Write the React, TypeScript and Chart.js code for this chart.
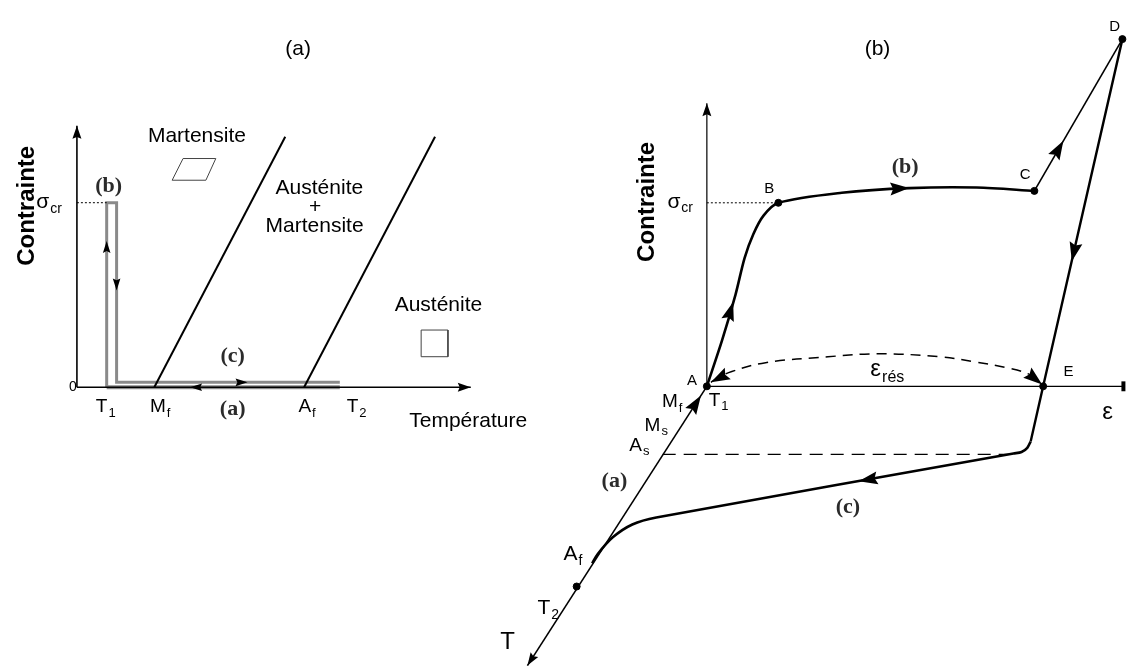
import React, { useEffect, useRef } from "react";
import { Chart, registerables } from "chart.js";

Chart.register(...registerables);

type Pt = { x: number; y: number };

// ================= Panel (a): stress vs temperature (x = temperature units, y = stress units) =================
const tempAxisA: Pt[] = [{ x: 0, y: 0 }, { x: 99.25, y: 0 }];
const stressAxisA: Pt[] = [{ x: 0, y: 0 }, { x: 0, y: 100 }];
const sigmaCrA = 70.6;
const sigmaCrDottedA: Pt[] = [{ x: 0, y: sigmaCrA }, { x: 7.5, y: sigmaCrA }];
const loadPathA: Pt[] = [
  { x: 7.5, y: 0 }, { x: 7.5, y: sigmaCrA }, { x: 10, y: sigmaCrA }, { x: 10, y: 1.9 }, { x: 66.25, y: 1.9 },
];
const coolPathA: Pt[] = [{ x: 7.5, y: 0 }, { x: 66.25, y: 0 }];
const mfBoundaryA: Pt[] = [{ x: 19.5, y: 0 }, { x: 52.5, y: 95.8 }];
const afBoundaryA: Pt[] = [{ x: 57.25, y: 0 }, { x: 90.25, y: 95.8 }];
const martensiteIconA: Pt[] = [
  { x: 26.75, y: 87.5 }, { x: 35, y: 87.5 }, { x: 32.5, y: 79.2 }, { x: 24, y: 79.2 }, { x: 26.75, y: 87.5 },
];
const austeniteIconA: Pt[] = [
  { x: 86.75, y: 21.9 }, { x: 93.5, y: 21.9 }, { x: 93.5, y: 11.7 }, { x: 86.75, y: 11.7 }, { x: 86.75, y: 21.9 },
];
const arrowsA = [
  { tail: { x: 0, y: 94 }, tip: { x: 0, y: 100 }, kind: "axis" },
  { tail: { x: 95, y: 0 }, tip: { x: 99.25, y: 0 }, kind: "axis" },
  { tail: { x: 7.5, y: 50 }, tip: { x: 7.5, y: 56 }, kind: "small" },
  { tail: { x: 10, y: 43 }, tip: { x: 10, y: 37 }, kind: "small" },
  { tail: { x: 39, y: 1.9 }, tip: { x: 43, y: 1.9 }, kind: "small" },
  { tail: { x: 32.5, y: 0 }, tip: { x: 28.5, y: 0 }, kind: "small" },
];
const textsA = [
  { t: "(a)", x: 55.75, y: 129.4, s: "title" },
  { t: "Martensite", x: 30.25, y: 96.2, s: "label" },
  { t: "Austénite", x: 61.1, y: 76.2, s: "label" },
  { t: "+", x: 60, y: 68.7, s: "label" },
  { t: "Martensite", x: 59.9, y: 61.5, s: "label" },
  { t: "Austénite", x: 91.1, y: 31.3, s: "label" },
  { t: "Température", x: 83.75, y: -12.8, s: "label", align: "left" },
  { t: "0", x: -1, y: 0, s: "small" },
  { t: "σ", sub: "cr", x: -7, y: 70.9, s: "sym" },
  { t: "(b)", x: 8, y: 77, s: "serif" },
  { t: "(c)", x: 39.25, y: 11.7, s: "serif" },
  { t: "(a)", x: 39.25, y: -8.3, s: "serif" },
  { t: "T", sub: "1", x: 7.25, y: -7.5, s: "tick" },
  { t: "M", sub: "f", x: 21, y: -7.5, s: "tick" },
  { t: "A", sub: "f", x: 58, y: -7.5, s: "tick" },
  { t: "T", sub: "2", x: 70.5, y: -7.5, s: "tick" },
  { t: "Contrainte", x: -12.5, y: 69.4, s: "axisTitle", rotate: true },
];

// ================= Panel (b): stress / strain / temperature (projected units) =================
const strainAxisB: Pt[] = [{ x: 0, y: 0 }, { x: 123.5, y: 0 }];
const strainEndTickB: Pt[] = [{ x: 123.5, y: -2.7 }, { x: 123.5, y: 2.7 }];
const stressAxisB: Pt[] = [{ x: 0, y: 0 }, { x: 0, y: 154.3 }];
const tempAxisB: Pt[] = [{ x: 0, y: 0 }, { x: -53.2, y: -152.2 }];
const sigmaCrDottedB: Pt[] = [{ x: 0, y: 100 }, { x: 21.2, y: 100 }];
const loadingABC: Pt[] = [
  { x: 0, y: 0 }, { x: 4.5, y: 25 }, { x: 8.5, y: 50 }, { x: 11.2, y: 70 }, { x: 13.8, y: 83 },
  { x: 16.8, y: 93 }, { x: 21.2, y: 100 }, { x: 40, y: 105.5 }, { x: 60, y: 108 },
  { x: 80, y: 108.3 }, { x: 97.1, y: 106.5 },
];
const elasticCD: Pt[] = [{ x: 97.1, y: 106.5 }, { x: 123.2, y: 189.2 }];
const unloadingDE: Pt[] = [{ x: 123.2, y: 189.2 }, { x: 99.7, y: 0 }, { x: 96, y: -30.1 }];
const recoveryB: Pt[] = [
  { x: 96, y: -30.1 }, { x: 95, y: -33.5 }, { x: 93.3, y: -35.8 }, { x: 90.9, y: -36.6 },
  { x: -15, y: -71.5 }, { x: -22.1, y: -75.3 }, { x: -27.9, y: -82.3 }, { x: -32.4, y: -91.5 },
  { x: -34, y: -96.5 },
];
const residualArcB: Pt[] = [
  { x: 1.2, y: 2.2 }, { x: 3.5, y: 4.8 }, { x: 7.4, y: 8.1 }, { x: 17.4, y: 12.9 }, { x: 35.9, y: 16.1 },
  { x: 50.6, y: 17.7 }, { x: 69.1, y: 16.1 }, { x: 79.1, y: 13.4 }, { x: 88.8, y: 10.2 },
  { x: 95.6, y: 6.5 }, { x: 99.1, y: 1.6 },
];
const asLevelB: Pt[] = [{ x: -13.1, y: -37.1 }, { x: 90.9, y: -37.1 }];
const pointsB: Pt[] = [
  { x: 0, y: 0 }, { x: 21.2, y: 100 }, { x: 97.1, y: 106.5 }, { x: 123.2, y: 189.2 },
  { x: 99.7, y: 0 }, { x: -38.6, y: -109.1 },
];
const arrowsB = [
  { tail: { x: 0, y: 146 }, tip: { x: 0, y: 154.3 }, kind: "axis" },
  { tail: { x: -50.3, y: -143.9 }, tip: { x: -53.2, y: -152.2 }, kind: "axis" },
  { tail: { x: -5.24, y: -15 }, tip: { x: -1.75, y: -5 }, kind: "curve" },
  { tail: { x: 6.8, y: 40 }, tip: { x: 7.8, y: 46 }, kind: "curve" },
  { tail: { x: 52, y: 107.3 }, tip: { x: 60, y: 108 }, kind: "curve" },
  { tail: { x: 102.3, y: 123 }, tip: { x: 105.7, y: 133.8 }, kind: "curve" },
  { tail: { x: 110.3, y: 85.1 }, tip: { x: 108.2, y: 68.1 }, kind: "curve" },
  { tail: { x: 53, y: -49.1 }, tip: { x: 45, y: -51.7 }, kind: "curve" },
  { tail: { x: 7.4, y: 8.1 }, tip: { x: 1.2, y: 2.2 }, kind: "curve" },
  { tail: { x: 95, y: 7.5 }, tip: { x: 99.4, y: 1.0 }, kind: "curve" },
];
const textsB = [
  { t: "(b)", x: 50.6, y: 183.9, s: "title" },
  { t: "Contrainte", x: -17.6, y: 100.5, s: "axisTitle", rotate: true },
  { t: "σ", sub: "cr", x: -7.9, y: 100.5, s: "sym" },
  { t: "B", x: 18.5, y: 107.5, s: "point" },
  { t: "C", x: 94.4, y: 115, s: "point" },
  { t: "D", x: 120.9, y: 195.7, s: "point" },
  { t: "E", x: 107.2, y: 8.1, s: "point" },
  { t: "A", x: -4.4, y: 2.7, s: "point" },
  { t: "(b)", x: 58.8, y: 119.4, s: "serif" },
  { t: "ε", sub: "rés", x: 53.5, y: 9.1, s: "eps" },
  { t: "ε", x: 118.8, y: -14, s: "eps" },
  { t: "(c)", x: 41.8, y: -66.1, s: "serif" },
  { t: "(a)", x: -27.4, y: -51.6, s: "serif" },
  { t: "M", sub: "f", x: -10.3, y: -8.6, s: "tick" },
  { t: "T", sub: "1", x: 3.5, y: -7.9, s: "tick" },
  { t: "M", sub: "s", x: -15, y: -21.5, s: "tick" },
  { t: "A", sub: "s", x: -20, y: -32.3, s: "tick" },
  { t: "A", sub: "f", x: -39.7, y: -91.4, s: "tickBig" },
  { t: "T", sub: "2", x: -47, y: -121, s: "tickBig" },
  { t: "T", x: -59.1, y: -139.8, s: "big" },
];

// ================= styles =================
const W = 1130;
const H = 671;
const SANS = "'Liberation Sans', Arial, sans-serif";
const SERIF = "'Liberation Serif', 'Times New Roman', serif";
const textStyles: Record<string, { font: string; sub?: string; color: string }> = {
  title: { font: `21px ${SANS}`, color: "#000" },
  label: { font: `21px ${SANS}`, color: "#000" },
  small: { font: `14px ${SANS}`, color: "#000" },
  sym: { font: `21px ${SANS}`, sub: `14px ${SANS}`, color: "#000" },
  serif: { font: `bold 22px ${SERIF}`, color: "#2b2b2b" },
  tick: { font: `19px ${SANS}`, sub: `13px ${SANS}`, color: "#000" },
  tickBig: { font: `21px ${SANS}`, sub: `14px ${SANS}`, color: "#000" },
  big: { font: `24px ${SANS}`, color: "#000" },
  point: { font: `15px ${SANS}`, color: "#000" },
  eps: { font: `24px ${SANS}`, sub: `16px ${SANS}`, color: "#000" },
  axisTitle: { font: `bold 24px ${SANS}`, color: "#000" },
};
const headStyles: Record<string, { len: number; half: number }> = {
  axis: { len: 13, half: 4.5 },
  small: { len: 12, half: 3.8 },
  curve: { len: 19, half: 6.5 },
};
// scale mapping constants (pixel origin and pixels per unit)
const A_X0 = 73, A_XS = 4, A_Y0 = 388, A_YS = 2.65;
const B_X0 = 708, B_XS = 3.4, B_Y0 = 387, B_YS = 1.86;

function lineDs(data: Pt[], panel: "a" | "b", color: string, width: number, extra: any = {}) {
  return {
    data,
    xAxisID: panel === "a" ? "xa" : "xb",
    yAxisID: panel === "a" ? "ya" : "yb",
    showLine: true,
    borderColor: color,
    backgroundColor: color,
    borderWidth: width,
    pointRadius: 0,
    pointHoverRadius: 0,
    tension: 0,
    fill: false,
    clip: false,
    order: 0,
    ...extra,
  };
}

const annotationPlugin = {
  id: "annotations",
  afterDatasetsDraw(chart: any) {
    const ctx: CanvasRenderingContext2D = chart.ctx;
    const sc = chart.scales;
    const px = (panel: string, p: Pt) =>
      panel === "a"
        ? [sc.xa.getPixelForValue(p.x), sc.ya.getPixelForValue(p.y)]
        : [sc.xb.getPixelForValue(p.x), sc.yb.getPixelForValue(p.y)];

    const drawArrows = (list: any[], panel: string) => {
      list.forEach((a) => {
        const [tx, ty] = px(panel, a.tail);
        const [hx, hy] = px(panel, a.tip);
        const hs = headStyles[a.kind];
        const ang = Math.atan2(hy - ty, hx - tx);
        ctx.save();
        ctx.translate(hx, hy);
        ctx.rotate(ang);
        ctx.beginPath();
        ctx.moveTo(0, 0);
        ctx.lineTo(-hs.len, hs.half);
        ctx.lineTo(-hs.len * 0.85, 0);
        ctx.lineTo(-hs.len, -hs.half);
        ctx.closePath();
        ctx.fillStyle = "#000";
        ctx.fill();
        ctx.restore();
      });
    };

    const drawTexts = (list: any[], panel: string) => {
      list.forEach((o) => {
        const st = textStyles[o.s];
        const [x, y] = px(panel, o);
        ctx.save();
        ctx.fillStyle = st.color;
        ctx.textBaseline = "middle";
        ctx.font = st.font;
        if (o.rotate) {
          ctx.translate(x, y);
          ctx.rotate(-Math.PI / 2);
          ctx.textAlign = "center";
          ctx.fillText(o.t, 0, 0);
          ctx.restore();
          return;
        }
        const mainW = ctx.measureText(o.t).width;
        let subW = 0;
        if (o.sub) {
          ctx.font = st.sub || st.font;
          subW = ctx.measureText(o.sub).width + 1;
          ctx.font = st.font;
        }
        const total = mainW + subW;
        const startX = o.align === "left" ? x : x - total / 2;
        ctx.textAlign = "left";
        ctx.fillText(o.t, startX, y);
        if (o.sub) {
          ctx.font = st.sub || st.font;
          const fs = parseFloat(st.font.replace(/^bold /, ""));
          ctx.fillText(o.sub, startX + mainW + 1, y + fs * 0.32);
        }
        ctx.restore();
      });
    };

    drawArrows(arrowsA, "a");
    drawArrows(arrowsB, "b");
    drawTexts(textsA, "a");
    drawTexts(textsB, "b");
  },
};

export default function App() {
  const ref = useRef<HTMLCanvasElement | null>(null);

  useEffect(() => {
    if (!ref.current) return;
    const datasets: any[] = [
      // panel (a)
      lineDs(loadPathA, "a", "#8a8a8a", 3, { order: 5 }),
      lineDs(coolPathA, "a", "#8a8a8a", 4, { order: 6 }),
      lineDs(tempAxisA, "a", "#000", 1.6),
      lineDs(stressAxisA, "a", "#000", 1.6),
      lineDs(sigmaCrDottedA, "a", "#000", 1, { borderDash: [2, 2] }),
      lineDs(mfBoundaryA, "a", "#000", 2),
      lineDs(afBoundaryA, "a", "#000", 2),
      lineDs(martensiteIconA, "a", "#444", 1),
      lineDs(austeniteIconA, "a", "#444", 1),
      // panel (b)
      lineDs(strainAxisB, "b", "#000", 1.2),
      lineDs(strainEndTickB, "b", "#000", 4),
      lineDs(stressAxisB, "b", "#000", 1.2),
      lineDs(tempAxisB, "b", "#000", 1.6),
      lineDs(sigmaCrDottedB, "b", "#000", 1, { borderDash: [2, 2] }),
      lineDs(loadingABC, "b", "#000", 2.6, { tension: 0.3 }),
      lineDs(elasticCD, "b", "#000", 1.6),
      lineDs(unloadingDE, "b", "#000", 2.4),
      lineDs(recoveryB, "b", "#000", 2.6, { tension: 0.3 }),
      lineDs(residualArcB, "b", "#000", 1.5, { tension: 0.4, borderDash: [10, 7] }),
      lineDs(asLevelB, "b", "#000", 1.3, { borderDash: [13, 8] }),
      {
        data: pointsB,
        xAxisID: "xb",
        yAxisID: "yb",
        showLine: false,
        pointRadius: 3.5,
        pointHoverRadius: 3.5,
        pointBackgroundColor: "#000",
        pointBorderColor: "#000",
        clip: false,
        order: 0,
      },
    ];

    const chart = new Chart(ref.current, {
      type: "scatter",
      data: { datasets },
      options: {
        animation: false,
        responsive: false,
        devicePixelRatio: 1,
        events: [],
        layout: { padding: 0 },
        plugins: { legend: { display: false }, tooltip: { enabled: false }, title: { display: false } },
        scales: {
          xa: { type: "linear", axis: "x", display: false, bounds: "data", min: -A_X0 / A_XS, max: (W - A_X0) / A_XS },
          ya: { type: "linear", axis: "y", display: false, bounds: "data", min: (A_Y0 - H) / A_YS, max: A_Y0 / A_YS },
          xb: { type: "linear", axis: "x", display: false, bounds: "data", min: -B_X0 / B_XS, max: (W - B_X0) / B_XS },
          yb: { type: "linear", axis: "y", display: false, bounds: "data", min: (B_Y0 - H) / B_YS, max: B_Y0 / B_YS },
        },
      } as any,
      plugins: [annotationPlugin],
    });
    return () => chart.destroy();
  }, []);

  return (
    <div style={{ position: "absolute", left: 0, top: 0, width: W, height: H, background: "#fff" }}>
      <canvas ref={ref} width={W} height={H} style={{ display: "block", width: W, height: H }} />
    </div>
  );
}
